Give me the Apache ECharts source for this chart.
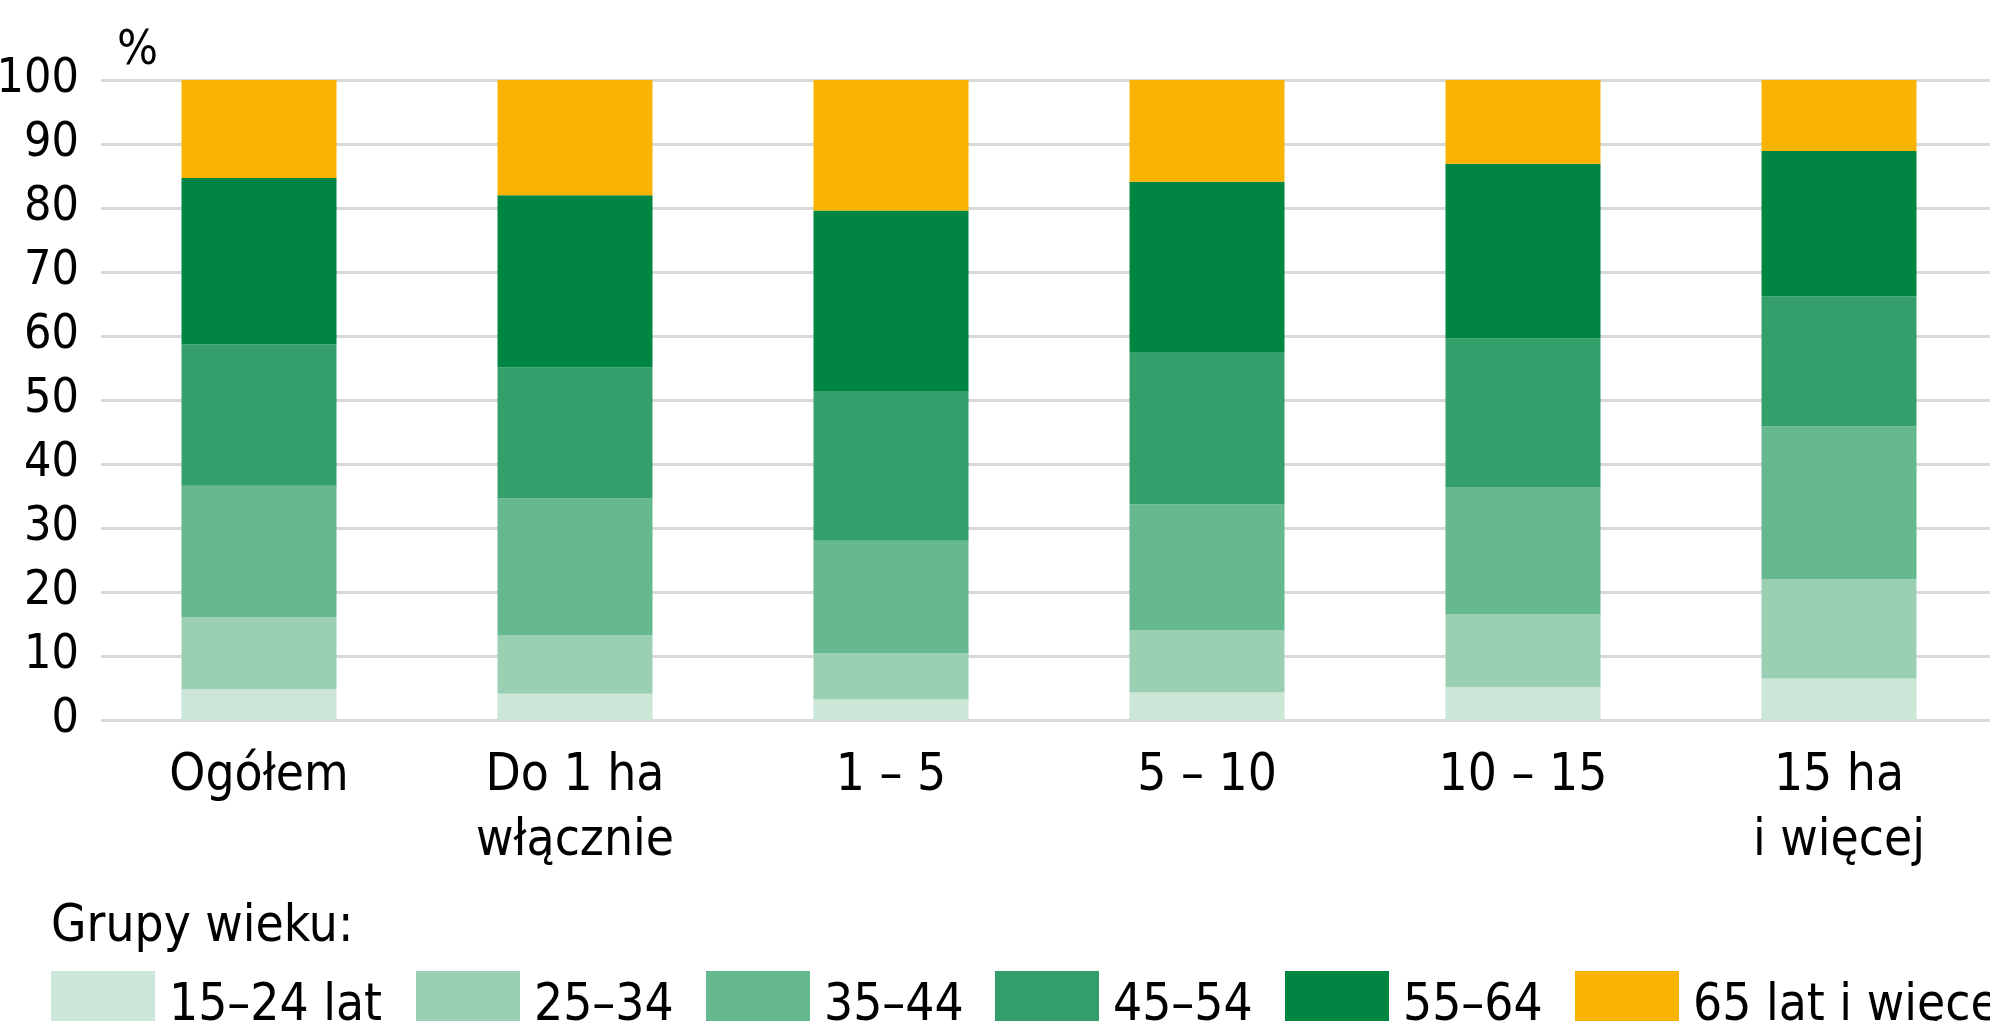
<!DOCTYPE html>
<html>
<head>
<meta charset="utf-8">
<script src="https://cdn.jsdelivr.net/npm/echarts@6/dist/echarts.min.js"></script>
<style>
html,body{margin:0;padding:0;background:#fff;}
#chart{width:1990px;height:1021px;}
</style>
</head>
<body>
<div id="chart"></div>
<script>
const categories = ['Ogółem', 'Do 1 ha\nwłącznie', '1 – 5', '5 – 10', '10 – 15', '15 ha\ni więcej'];
const seriesNames = ['15–24 lat', '25–34', '35–44', '45–54', '55–64', '65 lat i więcej'];
const age15_24 = [4.8, 4.1, 3.2, 4.3, 5.1, 6.5];
const age25_34 = [11.2, 9.2, 7.2, 9.7, 11.4, 15.5];
const age35_44 = [20.6, 21.3, 17.6, 19.7, 19.9, 23.9];
const age45_54 = [22.1, 20.5, 23.4, 23.7, 23.2, 20.3];
const age55_64 = [26.0, 26.9, 28.2, 26.7, 27.3, 22.7];
const age65plus = [15.3, 18.0, 20.4, 15.9, 13.1, 11.1];
const yTicks = [0, 10, 20, 30, 40, 50, 60, 70, 80, 90, 100];
const colors = ['#cce6d8', '#9acfb3', '#66b88f', '#349f6a', '#008542', '#f8b300'];

const FONT = '"DejaVu Sans Condensed", "Liberation Sans Narrow", "Roboto", sans-serif';
const FS = 51;
const allData = [age15_24, age25_34, age35_44, age45_54, age55_64, age65plus];
const legendLefts = [51, 416, 706, 995, 1285, 1575];

const chart = echarts.init(document.getElementById('chart'), null, {renderer: 'canvas'});
chart.setOption({
  backgroundColor: '#ffffff',
  animation: false,
  textStyle: {fontFamily: FONT},
  grid: {left: 101, right: -7, top: 80, bottom: 301, containLabel: false, outerBoundsMode: 'none'},
  xAxis: {
    type: 'category',
    data: categories,
    axisLine: {show: false},
    axisTick: {show: false},
    axisLabel: {color: '#000', fontSize: FS, lineHeight: 65, margin: 24, fontFamily: FONT}
  },
  yAxis: {
    type: 'value',
    min: yTicks[0],
    max: yTicks[yTicks.length - 1],
    interval: 10,
    axisLine: {show: false},
    axisTick: {show: false},
    axisLabel: {color: '#000', fontSize: 48, margin: 22, fontFamily: FONT},
    splitLine: {lineStyle: {color: '#d9d9d9', width: 3}}
  },
  legend: seriesNames.map((name, i) => ({
    left: legendLefts[i],
    top: 971,
    padding: 0,
    itemWidth: 104,
    itemHeight: 72,
    itemGap: 0,
    icon: 'rect',
    textStyle: {color: '#000', fontSize: FS, fontFamily: FONT, padding: [0, 0, 0, 9]},
    data: [name]
  })),
  graphic: [
    {type: 'text', left: 117, top: 28, style: {text: '%', fontSize: 48, fontFamily: FONT, fill: '#000'}},
    {type: 'text', left: 51, top: 902, style: {text: 'Grupy wieku:', fontSize: FS, fontFamily: FONT, fill: '#000'}}
  ],
  series: seriesNames.map((name, i) => ({
    name: name,
    type: 'bar',
    stack: 'total',
    barWidth: 155,
    itemStyle: {color: colors[i]},
    data: allData[i]
  }))
});
</script>
</body>
</html>
